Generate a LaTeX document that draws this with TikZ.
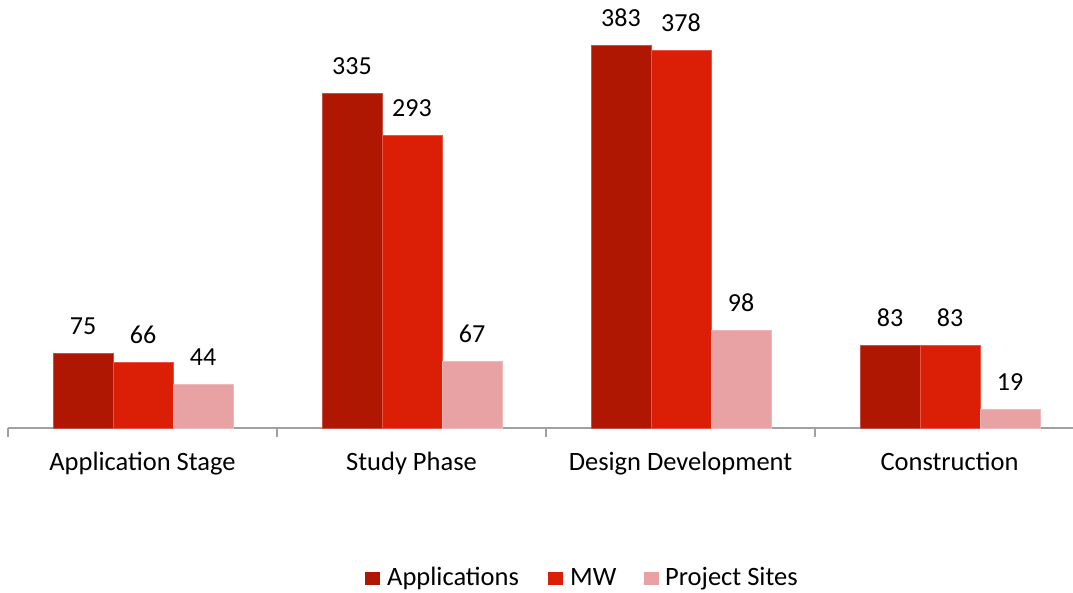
\documentclass[tikz,border=0pt]{standalone}
\usepackage{fontspec}
\setmainfont{Carlito}
\usetikzlibrary{calc}
\definecolor{appred}{RGB}{176,23,2}
\definecolor{mwred}{RGB}{218,31,6}
\definecolor{sitepink}{RGB}{232,162,163}
\definecolor{axisgray}{RGB}{160,160,160}

\begin{document}
\begin{tikzpicture}[x=1pt,y=1pt,
	lbl/.style={font=\fontsize{26}{31}\selectfont,anchor=base,inner sep=0pt},
	txt/.style={font=\fontsize{26.5}{32}\selectfont,anchor=base,inner sep=0pt},
	bar/.style={fill=#1,draw=#1!75!white,line width=0.5pt},
	key/.style={fill=#1,draw=none,minimum width=15pt,minimum height=13pt,inner sep=0pt}]
	\useasboundingbox (0,0) rectangle (1073,592);
	% origin of the value axis
	\coordinate (O) at (8,164);
	\draw[axisgray,line width=1.3pt] (O) -- (1073,164);% category axis
	\foreach \k in {0,...,3}
		\draw[axisgray,line width=1.3pt] ($(O)+(269*\k,0)$) -- ++(0,-9);% ticks
	% one group per stage: applications, MW, project sites
	\foreach \k/\a/\m/\s/\name in {0/75/66/44/Application Stage,1/335/293/67/Study Phase,2/383/378/98/Design Development,3/83/83/19/Construction}{
		\coordinate (g\k) at ($(O)+(269*\k,0)$);
		\draw[bar=appred] ($(g\k)+(45,0)$) rectangle ++(60,\a);
		\draw[bar=mwred] ($(g\k)+(105,0)$) rectangle ++(60,\m);
		\draw[bar=sitepink] ($(g\k)+(165,0)$) rectangle ++(60,\s);
		\node[lbl] (va\k) at ($(g\k)+(75,\a+18)$) {\a};
		\node[lbl] (vm\k) at ($(g\k)+(135,\m+18)$) {\m};
		\node[lbl] (vs\k) at ($(g\k)+(195,\s+18)$) {\s};
		\node[txt] (cat\k) at ($(g\k)+(134.5,-42)$) {\name};
	}
	% legend
	\node[key=appred] (keyapp) at (372.5,13.5) {};
	\node[txt,anchor=base west] (txtapp) at (387,6.5) {Applications};
	\node[key=mwred] (keymw) at (555.5,13.5) {};
	\node[txt,anchor=base west] (txtmw) at (570,6.5) {MW};
	\node[key=sitepink] (keysite) at (651.5,13.5) {};
	\node[txt,anchor=base west] (txtsite) at (665,6.5) {Project Sites};
\end{tikzpicture}
\end{document}
